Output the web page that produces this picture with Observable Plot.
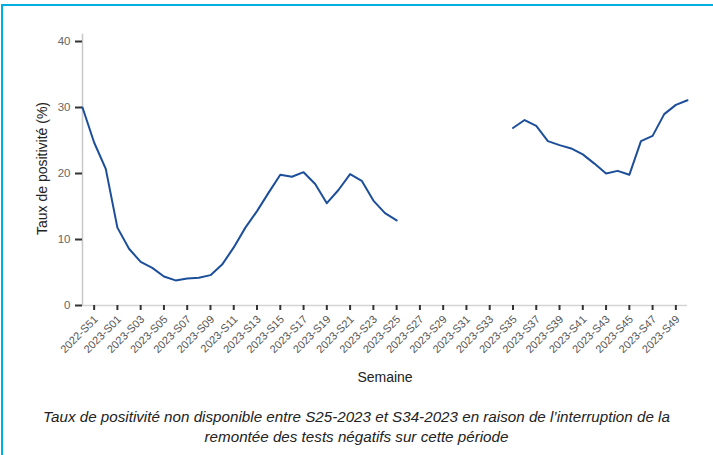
<!DOCTYPE html>
<html>
<head>
<meta charset="utf-8">
<script src="https://cdn.jsdelivr.net/npm/d3@7"></script>
<script src="https://cdn.jsdelivr.net/npm/@observablehq/plot@0.6"></script>
<style>
  html, body { margin: 0; padding: 0; background: #fff; overflow: hidden; }
  #frame { position: absolute; left: 1px; top: 4px; width: 900px; height: 700px; border: 2px solid #00aee0; box-sizing: border-box; }
  #wrap { position: absolute; left: 0; top: 0; width: 713px; }
  #caption { font-family: "Liberation Sans", Arial, sans-serif; font-style: italic; font-size: 15.2px; line-height: 20px; color: #222; text-align: center; padding-top: 12px; }
</style>
</head>
<body>
<div id="frame"></div>
<div id="wrap">
  <div id="chart"></div>
  <div id="caption">Taux de positivité non disponible entre S25-2023 et S34-2023 en raison de l’interruption de la<br>remontée des tests négatifs sur cette période</div>
</div>
<script>
const weeks = [
  "2022-S50","2022-S51","2022-S52",
  "2023-S01","2023-S02","2023-S03","2023-S04","2023-S05","2023-S06","2023-S07","2023-S08","2023-S09","2023-S10",
  "2023-S11","2023-S12","2023-S13","2023-S14","2023-S15","2023-S16","2023-S17","2023-S18","2023-S19","2023-S20",
  "2023-S21","2023-S22","2023-S23","2023-S24","2023-S25","2023-S26","2023-S27","2023-S28","2023-S29","2023-S30",
  "2023-S31","2023-S32","2023-S33","2023-S34","2023-S35","2023-S36","2023-S37","2023-S38","2023-S39","2023-S40",
  "2023-S41","2023-S42","2023-S43","2023-S44","2023-S45","2023-S46","2023-S47","2023-S48","2023-S49","2023-S50"
];
const positivity = [
  30.0, 24.7, 20.7,
  11.8, 8.6, 6.6, 5.7, 4.4, 3.8, 4.1, 4.2, 4.6, 6.2,
  8.8, 11.8, 14.3, 17.1, 19.8, 19.5, 20.2, 18.4, 15.5, 17.5,
  19.9, 18.9, 15.9, 14.0, 12.9, null, null, null, null, null,
  null, null, null, null, 26.9, 28.1, 27.2, 24.9, 24.3, 23.8,
  22.9, 21.5, 20.0, 20.4, 19.8, 24.9, 25.7, 29.0, 30.4, 31.1
];
const xTickLabels = ["2022-S51","2023-S01","2023-S03","2023-S05","2023-S07","2023-S09","2023-S11","2023-S13","2023-S15",
  "2023-S17","2023-S19","2023-S21","2023-S23","2023-S25","2023-S27","2023-S29","2023-S31","2023-S33","2023-S35",
  "2023-S37","2023-S39","2023-S41","2023-S43","2023-S45","2023-S47","2023-S49"];
const yTicks = [0, 10, 20, 30, 40];
const yTitle = "Taux de positivité (%)";
const xTitle = "Semaine";

const data = weeks.map((w, i) => ({week: w, i, value: positivity[i]}));
const xTickIdx = xTickLabels.map(l => weeks.indexOf(l));

const chart = Plot.plot({
  width: 713,
  height: 395,
  marginLeft: 82,
  marginRight: 26,
  marginTop: 41,
  marginBottom: 90,
  style: {fontFamily: "Liberation Sans, Arial, sans-serif", background: "transparent"},
  x: {domain: [0, weeks.length - 1], axis: null},
  y: {domain: [0, 40], axis: null},
  marks: [
    Plot.ruleX([0], {y1: 0, y2: 41.1, stroke: "#c8c8c8", strokeWidth: 1.5}),
    Plot.ruleY([0], {x1: 0, x2: weeks.length - 1, stroke: "#d4d4d4", strokeWidth: 1.5}),
    Plot.ruleY(yTicks, {x1: -0.6, x2: 0, stroke: "#333", strokeWidth: 2}),
    Plot.text(yTicks, {x: 0, y: d => d, text: d => String(d), dx: -12, textAnchor: "end", fill: "#666", fontSize: 11.5}),
    Plot.ruleX(xTickIdx, {y1: 0, y2: -0.76, stroke: "#333", strokeWidth: 2}),
    Plot.text(xTickIdx, {x: d => d, y: 0, text: d => weeks[d], rotate: -45, textAnchor: "end", dx: 2, dy: 12, fill: "#555", fontSize: 11}),
    Plot.line(data, {x: "i", y: "value", stroke: "#1c4e9a", strokeWidth: 2}),
    Plot.text([yTitle], {frameAnchor: "left", textAnchor: "middle", lineAnchor: "middle", dx: -40, dy: -5, rotate: -90, fill: "#222", fontSize: 14}),
    Plot.text([xTitle], {frameAnchor: "bottom", textAnchor: "middle", lineAnchor: "middle", dy: 72, fill: "#222", fontSize: 14})
  ]
});
document.getElementById("chart").appendChild(chart);
</script>
</body>
</html>
